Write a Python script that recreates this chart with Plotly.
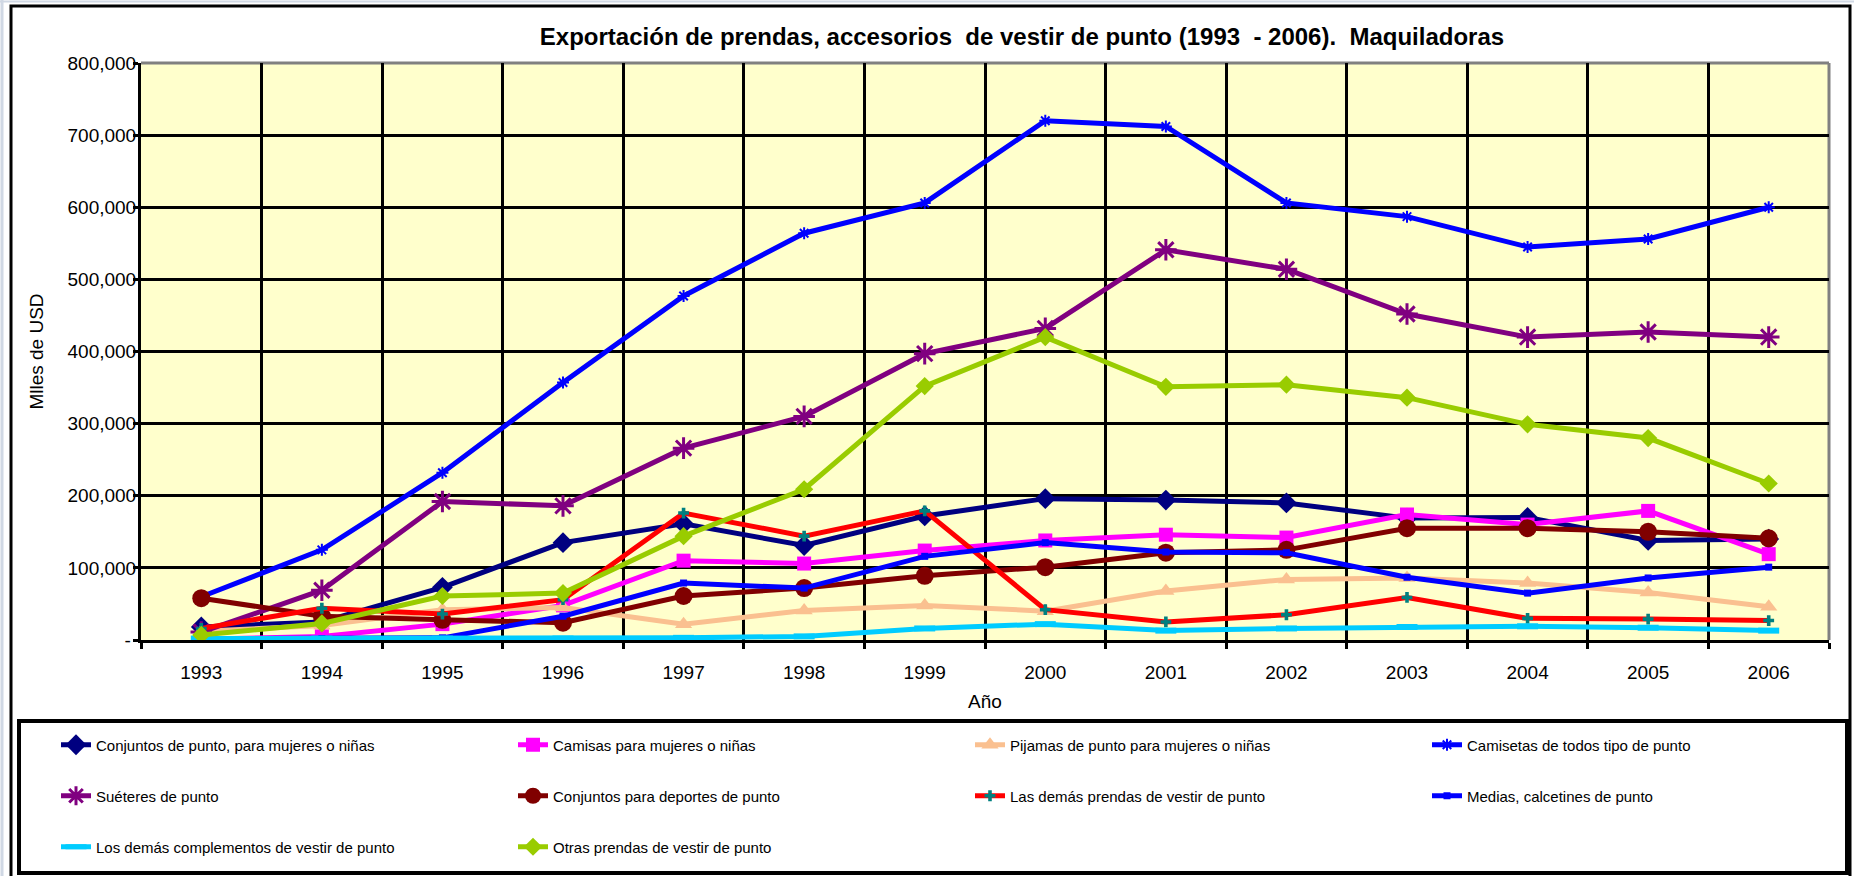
import plotly.graph_objects as go

anios = ["1993", "1994", "1995", "1996", "1997", "1998", "1999",
         "2000", "2001", "2002", "2003", "2004", "2005", "2006"]

conjuntos_mujeres = [18000, 25000, 73000, 135000, 161000, 131000, 172000,
                     196000, 194000, 190000, 169000, 170000, 138000, 140000]
camisas_mujeres = [1000, 5000, 22000, 48000, 110000, 106000, 124000,
                   138000, 146000, 142000, 174000, 160000, 179000, 119000]
pijamas = [12000, 20000, 42000, 45000, 22000, 41000, 48000,
           40000, 68000, 84000, 86000, 79000, 66000, 46000]
camisetas = [60000, 125000, 232000, 357000, 477000, 564000, 606000,
             720000, 712000, 606000, 587000, 545000, 556000, 600000]
sueteres = [11000, 69000, 192000, 186000, 266000, 310000, 397000,
            432000, 541000, 514000, 452000, 420000, 427000, 420000]
conjuntos_deportes = [58000, 33000, 28000, 24000, 61000, 72000, 89000,
                      101000, 121000, 125000, 155000, 155000, 150000, 141000]
demas_prendas = [16000, 44000, 36000, 56000, 176000, 144000, 179000,
                 42000, 25000, 35000, 59000, 30000, 29000, 27000]
medias = [2000, 2000, 3000, 33000, 79000, 72000, 116000,
          135000, 122000, 121000, 87000, 65000, 86000, 101000]
complementos = [2000, 2000, 2000, 2000, 3000, 5000, 16000,
                22000, 13000, 16000, 18000, 19000, 17000, 13000]
otras_prendas = [7000, 23000, 61000, 65000, 144000, 209000, 352000,
                 420000, 351000, 354000, 336000, 299000, 280000, 217000]

y_ticks = [0, 100000, 200000, 300000, 400000, 500000, 600000, 700000, 800000]
y_labels = ["-\u00a0", "100,000", "200,000", "300,000", "400,000",
            "500,000", "600,000", "700,000", "800,000"]

W, H = 1854, 876
L, R, T, B = 141, 25, 63, 236
pw, ph = W - L - R, H - T - B


def px_x(x):
    return (x - L) / pw


def px_y(y):
    return (H - B - y) / ph


fig = go.Figure()


def serie(nombre, valores, color, simbolo, tam, leyenda, mcolor=None, mline=0):
    fig.add_trace(go.Scatter(
        x=anios, y=valores, name=nombre, mode="lines+markers",
        line=dict(color=color, width=5),
        marker=dict(symbol=simbolo, size=tam, color=mcolor or color,
                    line=dict(color=mcolor or color, width=mline)),
        legend=leyenda,
    ))


serie("Conjuntos de punto, para mujeres o niñas", conjuntos_mujeres, "#000080", "diamond", 16, "legend")
serie("Camisas para mujeres o niñas", camisas_mujeres, "#FF00FF", "square", 14, "legend")
serie("Pijamas de punto para mujeres o niñas", pijamas, "#FAC090", "triangle-up", 15, "legend")
serie("Camisetas de todos tipo de punto", camisetas, "#0000FF", "asterisk-open", 10, "legend", mline=2)
serie("Suéteres de punto", sueteres, "#800080", "asterisk-open", 18, "legend2", mline=3)
serie("Conjuntos para deportes de punto", conjuntos_deportes, "#800000", "circle", 18, "legend2")
serie("Las demás prendas de vestir de punto", demas_prendas, "#FF0000", "cross", 9, "legend2", mcolor="#008080")
serie("Medias, calcetines de punto", medias, "#0000FF", "square", 7, "legend2")
serie("Los demás complementos de vestir de punto", complementos, "#00CCFF", "line-ew-open", 15, "legend3", mline=6)
serie("Otras prendas de vestir de punto", otras_prendas, "#99CC00", "diamond", 14, "legend3")

font = "Liberation Sans, Arial, sans-serif"
leg = dict(orientation="h", xanchor="left", x=px_x(56), yanchor="middle",
           entrywidth=412, entrywidthmode="pixels", bgcolor="rgba(0,0,0,0)",
           borderwidth=0, font=dict(size=15, color="black", family=font))

fig.update_layout(
    width=W, height=H,
    margin=dict(l=L, r=R, t=T, b=B, autoexpand=False),
    paper_bgcolor="white", plot_bgcolor="#FFFFCC",
    font=dict(family=font, color="black", size=19),
    showlegend=True,
    title=dict(text="Exportación de prendas, accesorios\u00a0 de vestir de punto (1993\u00a0 - 2006).\u00a0 Maquiladoras",
               x=px_x(1022), xanchor="center", xref="paper",
               y=1 - 37 / H, yanchor="middle",
               font=dict(size=24, family=font, color="black", weight="bold")),
    legend=dict(leg, y=px_y(745)),
    legend2=dict(leg, y=px_y(796)),
    legend3=dict(leg, y=px_y(847)),
    xaxis=dict(type="category", tickson="boundaries", range=[-0.5, 13.5],
               showgrid=True, gridcolor="black", gridwidth=3,
               showline=True, linecolor="black", linewidth=3,
               ticks="outside", ticklen=6, tickwidth=3, tickcolor="black",
               ticklabelstandoff=13, tickfont=dict(size=19),
               title=dict(text="Año", standoff=13, font=dict(size=19))),
    yaxis=dict(range=[0, 800000], tickvals=y_ticks, ticktext=y_labels,
               showgrid=True, gridcolor="black", gridwidth=3, zeroline=False,
               showline=True, linecolor="black", linewidth=3,
               ticks="outside", ticklen=5, tickwidth=3, tickcolor="black",
               ticklabelstandoff=-7, tickfont=dict(size=19),
               title=dict(text="Mlles de USD", standoff=19, font=dict(size=19))),
    shapes=[
        dict(type="line", xref="paper", yref="paper", x0=0, x1=1, y0=1, y1=1,
             line=dict(color="#808080", width=3), layer="between"),
        dict(type="line", xref="paper", yref="paper", x0=1, x1=1, y0=0, y1=1,
             line=dict(color="#808080", width=3), layer="between"),
        dict(type="rect", xref="paper", yref="paper",
             x0=px_x(11), x1=px_x(1850), y0=px_y(879), y1=px_y(6),
             line=dict(color="black", width=3), layer="above"),
        dict(type="rect", xref="paper", yref="paper",
             x0=px_x(19), x1=px_x(1847), y0=px_y(873), y1=px_y(721),
             line=dict(color="black", width=4), layer="above"),
        dict(type="line", xref="paper", yref="paper",
             x0=px_x(2), x1=px_x(2), y0=px_y(0), y1=px_y(876),
             line=dict(color="#D0D8E4", width=3), layer="above"),
        dict(type="line", xref="paper", yref="paper",
             x0=px_x(0), x1=px_x(1854), y0=px_y(1.5), y1=px_y(1.5),
             line=dict(color="#D0D8E4", width=2), layer="above"),
    ],
)

fig.write_html("out.html", config={"displayModeBar": False},
               post_script="document.body.style.margin='0px';")
